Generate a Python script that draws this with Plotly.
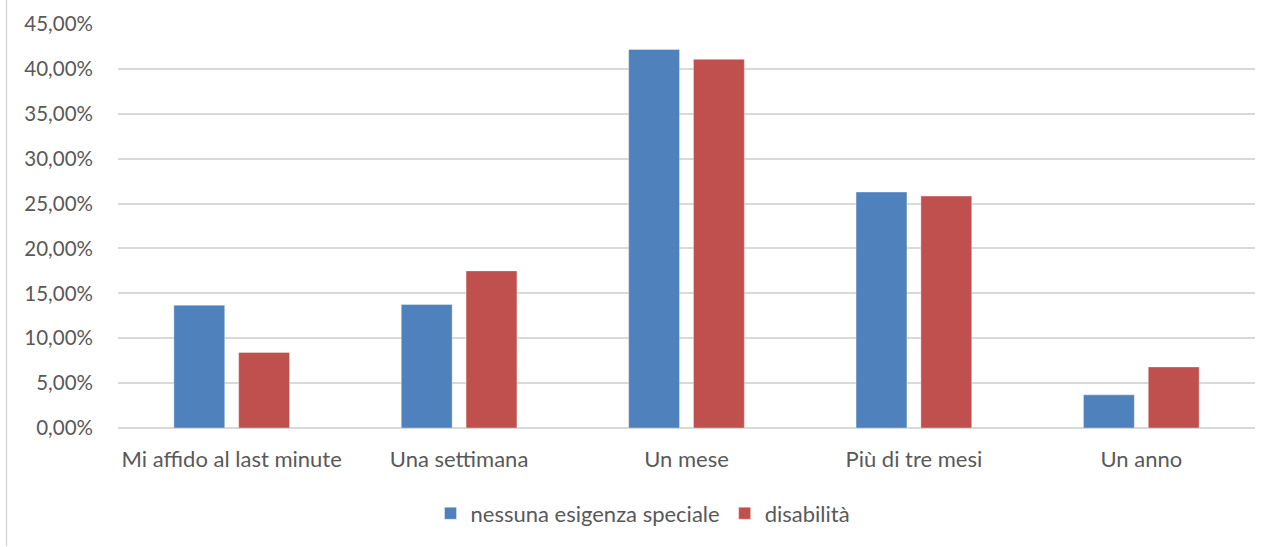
import plotly.graph_objects as go

# Preavviso con cui si prenota il viaggio
categories = ["Mi affido al last minute", "Una settimana", "Un mese", "Più di tre mesi", "Un anno"]
nessuna_esigenza = [0.1367, 0.1375, 0.4217, 0.2628, 0.0369]
disabilita = [0.0841, 0.1750, 0.4106, 0.2583, 0.0680]
y_ticks = [i * 0.05 for i in range(10)]

FONT = "Lato, 'Open Sans', sans-serif"
TEXT_GREY = "#595959"
GRID = "#D9D9D9"

fig = go.Figure()
fig.add_trace(go.Bar(
    name="nessuna esigenza speciale", x=categories, y=nessuna_esigenza,
    marker=dict(color="#4F81BD", line=dict(color="rgba(255,255,255,0.35)", width=1)),
))
fig.add_trace(go.Bar(
    name="disabilità", x=categories, y=disabilita,
    marker=dict(color="#C0504D", line=dict(color="rgba(255,255,255,0.35)", width=1)),
))

W, H = 1281, 547
ML, MR, MT, MB = 118, 26, 24, 118.5
plot_w = W - ML - MR
plot_h = H - MT - MB

fig.update_layout(
    width=W, height=H,
    margin=dict(l=ML, r=MR, t=MT, b=MB, pad=0, autoexpand=False),
    paper_bgcolor="white", plot_bgcolor="white",
    separators=",.",
    barmode="group", bargap=0.43, bargroupgap=0.215,
    font=dict(family=FONT, size=22, color=TEXT_GREY),
    showlegend=True,
    legend=dict(orientation="h", x=(643 - ML) / plot_w, xanchor="center",
                y=-(493 - MT - plot_h) / plot_h, yanchor="top",
                font=dict(family=FONT, size=22, color=TEXT_GREY),
                itemwidth=30, traceorder="normal"),
    xaxis=dict(showgrid=False, showline=False, ticks="", zeroline=False,
               automargin=False, ticklabelstandoff=16,
               tickfont=dict(family=FONT, size=22, color=TEXT_GREY)),
    yaxis=dict(range=[0, 0.45], tickvals=y_ticks, tickformat=".2%",
               showgrid=True, gridcolor=GRID, gridwidth=1.5,
               zeroline=True, zerolinecolor=GRID, zerolinewidth=1.5,
               showline=False, ticks="", ticklabelstandoff=24, automargin=False,
               tickfont=dict(family=FONT, size=20.5, color=TEXT_GREY)),
    shapes=[dict(type="line", xref="paper", yref="paper",
                 x0=(6.5 - ML) / plot_w, x1=(6.5 - ML) / plot_w,
                 y0=-MB / plot_h, y1=1 + MT / plot_h,
                 line=dict(color="#D9D9D9", width=1.5))],
)

fig.write_html("out.html")
